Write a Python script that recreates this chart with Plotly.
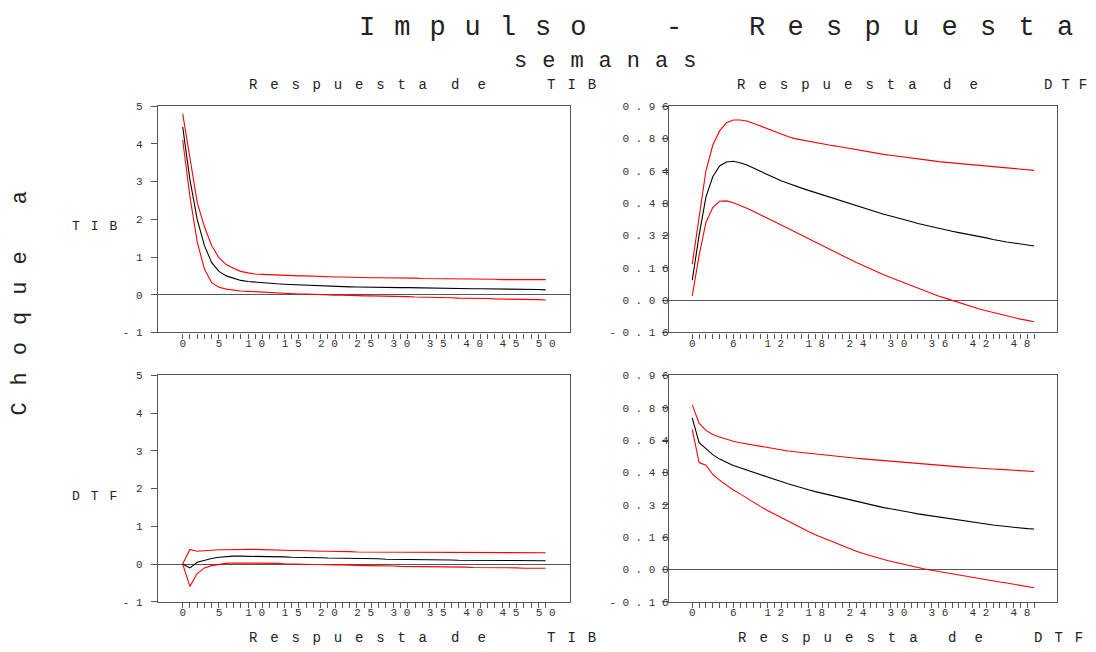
import plotly.graph_objects as go

W, H = 1096, 652
FONT = "Liberation Mono, Courier New, monospace"

steps = list(range(51))

# Respuesta de TIB a choque en TIB
tib_tib = [4.45, 3.05, 2.0, 1.3, 0.85, 0.62, 0.5, 0.43, 0.38, 0.35, 0.33, 0.32, 0.3, 0.29, 0.28, 0.27, 0.26, 0.25, 0.245, 0.24,
           0.23, 0.225, 0.22, 0.21, 0.205, 0.2, 0.2, 0.2, 0.195, 0.19, 0.19, 0.19, 0.185, 0.185, 0.18, 0.18, 0.175, 0.17, 0.17, 0.165,
           0.16, 0.16, 0.16, 0.155, 0.155, 0.15, 0.15, 0.15, 0.145, 0.14, 0.13]
tib_tib_hi = [4.8, 3.6, 2.45, 1.8, 1.3, 0.98, 0.8, 0.7, 0.62, 0.58, 0.55, 0.54, 0.53, 0.52, 0.51, 0.51, 0.5, 0.5, 0.49, 0.48,
              0.47, 0.47, 0.47, 0.46, 0.46, 0.45, 0.45, 0.45, 0.45, 0.44, 0.44, 0.44, 0.44, 0.43, 0.43, 0.42, 0.42, 0.42, 0.42, 0.42,
              0.42, 0.42, 0.41, 0.41, 0.4, 0.4, 0.4, 0.4, 0.4, 0.4, 0.4]
tib_tib_lo = [4.1, 2.6, 1.4, 0.68, 0.32, 0.2, 0.15, 0.12, 0.1, 0.09, 0.08, 0.07, 0.06, 0.05, 0.04, 0.02, 0.02, 0.02, 0.01, 0.0,
              0.0, -0.01, -0.01, -0.02, -0.02, -0.03, -0.03, -0.03, -0.04, -0.05, -0.05, -0.05, -0.06, -0.06, -0.07, -0.07, -0.08, -0.08, -0.09, -0.09,
              -0.1, -0.1, -0.1, -0.11, -0.11, -0.11, -0.12, -0.12, -0.13, -0.13, -0.14]

# Respuesta de DTF a choque en TIB
dtf_tib = [0.099, 0.32, 0.51, 0.61, 0.664, 0.683, 0.687, 0.68, 0.668, 0.652, 0.637, 0.622, 0.604, 0.59, 0.578, 0.565, 0.554, 0.543, 0.532, 0.521,
           0.51, 0.499, 0.488, 0.477, 0.466, 0.455, 0.444, 0.433, 0.425, 0.416, 0.408, 0.398, 0.389, 0.379, 0.371, 0.362, 0.354, 0.347, 0.341, 0.334,
           0.328, 0.321, 0.315, 0.308, 0.3, 0.293, 0.288, 0.283, 0.278, 0.273, 0.268]
dtf_tib_hi = [0.178, 0.42, 0.64, 0.766, 0.837, 0.878, 0.891, 0.891, 0.886, 0.874, 0.861, 0.847, 0.832, 0.82, 0.809, 0.799, 0.792, 0.785, 0.779, 0.773,
              0.767, 0.762, 0.756, 0.749, 0.743, 0.737, 0.731, 0.726, 0.721, 0.717, 0.713, 0.709, 0.704, 0.7, 0.695, 0.69, 0.685, 0.682, 0.678, 0.675,
              0.671, 0.668, 0.664, 0.661, 0.658, 0.655, 0.652, 0.65, 0.647, 0.644, 0.642]
dtf_tib_lo = [0.021, 0.22, 0.384, 0.458, 0.489, 0.491, 0.482, 0.469, 0.454, 0.438, 0.42, 0.405, 0.389, 0.372, 0.356, 0.339, 0.321, 0.303, 0.285, 0.268,
              0.252, 0.235, 0.218, 0.202, 0.186, 0.171, 0.155, 0.14, 0.126, 0.112, 0.099, 0.085, 0.071, 0.058, 0.046, 0.033, 0.021, 0.01, -0.001, -0.012,
              -0.023, -0.034, -0.044, -0.052, -0.061, -0.069, -0.077, -0.086, -0.094, -0.1, -0.107]

# Respuesta de TIB a choque en DTF
tib_dtf = [0.0, -0.1, 0.05, 0.11, 0.15, 0.18, 0.2, 0.21, 0.21, 0.21, 0.21, 0.2, 0.2, 0.19, 0.19, 0.18, 0.18, 0.18, 0.17, 0.17,
           0.16, 0.16, 0.16, 0.15, 0.15, 0.14, 0.14, 0.14, 0.13, 0.13, 0.12, 0.12, 0.12, 0.12, 0.11, 0.11, 0.11, 0.11, 0.1, 0.1,
           0.1, 0.1, 0.1, 0.1, 0.1, 0.1, 0.1, 0.1, 0.09, 0.09, 0.09]
tib_dtf_hi = [0.0, 0.39, 0.34, 0.36, 0.37, 0.38, 0.38, 0.39, 0.39, 0.39, 0.39, 0.38, 0.38, 0.37, 0.37, 0.36, 0.36, 0.35, 0.35, 0.34,
              0.34, 0.34, 0.33, 0.33, 0.32, 0.32, 0.32, 0.32, 0.32, 0.31, 0.31, 0.31, 0.31, 0.31, 0.31, 0.31, 0.31, 0.31, 0.31, 0.31,
              0.3, 0.3, 0.3, 0.3, 0.3, 0.3, 0.3, 0.3, 0.3, 0.3, 0.3]
tib_dtf_lo = [0.0, -0.59, -0.25, -0.1, -0.04, 0.0, 0.02, 0.03, 0.03, 0.03, 0.03, 0.03, 0.02, 0.02, 0.01, 0.0, 0.0, 0.0, -0.01, -0.01,
              -0.02, -0.02, -0.02, -0.03, -0.03, -0.04, -0.04, -0.04, -0.05, -0.05, -0.06, -0.06, -0.06, -0.06, -0.07, -0.07, -0.07, -0.08, -0.08, -0.08,
              -0.09, -0.09, -0.09, -0.1, -0.1, -0.1, -0.1, -0.11, -0.11, -0.11, -0.11]

# Respuesta de DTF a choque en DTF
dtf_dtf = [0.75, 0.627, 0.598, 0.568, 0.546, 0.528, 0.514, 0.503, 0.491, 0.48, 0.469, 0.457, 0.446, 0.435, 0.424, 0.413, 0.404, 0.394, 0.385, 0.377,
           0.368, 0.36, 0.352, 0.344, 0.336, 0.328, 0.319, 0.311, 0.306, 0.3, 0.295, 0.288, 0.282, 0.275, 0.27, 0.264, 0.259, 0.253, 0.248, 0.242,
           0.238, 0.233, 0.229, 0.225, 0.22, 0.216, 0.212, 0.208, 0.205, 0.202, 0.2]
dtf_dtf_hi = [0.814, 0.724, 0.688, 0.668, 0.655, 0.644, 0.634, 0.627, 0.621, 0.614, 0.608, 0.601, 0.595, 0.591, 0.586, 0.582, 0.578, 0.574, 0.57, 0.567,
              0.563, 0.56, 0.557, 0.553, 0.55, 0.547, 0.544, 0.541, 0.538, 0.535, 0.532, 0.529, 0.527, 0.524, 0.521, 0.517, 0.514, 0.512, 0.51, 0.508,
              0.505, 0.503, 0.5, 0.498, 0.497, 0.495, 0.493, 0.492, 0.49, 0.487, 0.485]
dtf_dtf_lo = [0.693, 0.529, 0.516, 0.47, 0.442, 0.418, 0.393, 0.374, 0.352, 0.333, 0.311, 0.292, 0.274, 0.256, 0.238, 0.221, 0.205, 0.188, 0.172, 0.158,
              0.145, 0.131, 0.117, 0.104, 0.09, 0.079, 0.068, 0.057, 0.049, 0.041, 0.033, 0.025, 0.016, 0.008, 0.002, -0.004, -0.01, -0.016, -0.023, -0.029,
              -0.035, -0.04, -0.046, -0.051, -0.057, -0.062, -0.067, -0.072, -0.077, -0.084, -0.09]

left_y_ticks = [-1, 0, 1, 2, 3, 4, 5]
left_y_text = ["- 1", "0", "1", "2", "3", "4", "5"]
right_y_ticks = [-0.16, 0.0, 0.16, 0.32, 0.48, 0.64, 0.80, 0.96]
right_y_text = ["- 0 . 1 6", "0 . 0 0", "0 . 1 6", "0 . 3 2", "0 . 4 8", "0 . 6 4", "0 . 8 0", "0 . 9 6"]
left_x_text = [" ".join(str(s)) if s % 5 == 0 else "" for s in steps]
right_x_text = [" ".join(str(s)) if s % 6 == 0 else "" for s in steps]

panels = [
    (1, tib_tib, tib_tib_hi, tib_tib_lo),
    (2, dtf_tib, dtf_tib_hi, dtf_tib_lo),
    (3, tib_dtf, tib_dtf_hi, tib_dtf_lo),
    (4, dtf_dtf, dtf_dtf_hi, dtf_dtf_lo),
]

fig = go.Figure()
for k, mid, hi, lo in panels:
    xa = "x" if k == 1 else f"x{k}"
    ya = "y" if k == 1 else f"y{k}"
    for series, col in ((hi, "#ff0000"), (lo, "#ff0000"), (mid, "#000000")):
        fig.add_trace(go.Scatter(x=steps, y=series, mode="lines", xaxis=xa, yaxis=ya,
                                 line=dict(color=col, width=1.1), showlegend=False, hoverinfo="skip"))


def py(target):
    # page pixel (from top) -> paper fraction, compensating the slight vertical squeeze of the render
    return 1 - ((target - 3.7) / 0.984) / H


colx = {"L": [158 / W, 570 / W], "R": [669 / W, 1057 / W]}
rowy = {"T": [py(332), py(105)], "B": [py(602), py(375)]}
tickfont = dict(family=FONT, size=11, color="#333")


def xaxis_cfg(col, row, anchor, text):
    return dict(domain=colx[col], anchor=anchor, range=[-3.4, 53.35], showgrid=False, zeroline=False,
                showline=True, mirror=True, linecolor="#555", linewidth=1.3,
                tickmode="array", tickvals=steps, ticktext=text, ticks="outside", ticklen=5,
                tickcolor="#555", tickwidth=1, tickfont=tickfont, ticklabelstandoff=-5)


def yaxis_cfg(col, row, anchor, rng, vals, text, standoff):
    return dict(domain=rowy[row], anchor=anchor, range=rng, showgrid=False, zeroline=True,
                zerolinecolor="#555", zerolinewidth=1.3, showline=True, mirror=True,
                linecolor="#555", linewidth=1.3, tickmode="array", tickvals=vals, ticktext=text,
                ticks="outside", ticklen=6, tickcolor="#555", tickwidth=1, tickfont=tickfont,
                ticklabelstandoff=standoff)


fig.update_layout(
    xaxis=xaxis_cfg("L", "T", "y", left_x_text),
    yaxis=yaxis_cfg("L", "T", "x", [-1, 5], left_y_ticks, left_y_text, 6),
    xaxis2=xaxis_cfg("R", "T", "y2", right_x_text),
    yaxis2=yaxis_cfg("R", "T", "x2", [-0.16, 0.96], right_y_ticks, right_y_text, -9),
    xaxis3=xaxis_cfg("L", "B", "y3", left_x_text),
    yaxis3=yaxis_cfg("L", "B", "x3", [-1, 5], left_y_ticks, left_y_text, 6),
    xaxis4=xaxis_cfg("R", "B", "y4", right_x_text),
    yaxis4=yaxis_cfg("R", "B", "x4", [-0.16, 0.96], right_y_ticks, right_y_text, -9),
)


def label(text, px, pyy, size, ls, anchor="left", angle=0):
    return dict(text=f'<span style="letter-spacing:{ls}px">{text}</span>', x=px / W, y=py(pyy),
                xref="paper", yref="paper", xanchor=anchor, yanchor="middle", showarrow=False,
                textangle=angle, font=dict(family=FONT, size=size, color="#222"))


annotations = [
    label("Impulso", 357, 27, 27, 19),
    label("-", 674, 27, 27, 0, anchor="center"),
    label("Respuesta", 747, 27, 27, 22.3),
    label("semanas", 512, 60, 22, 15),
    # column titles top
    label("Respuesta", 247, 84, 14, 12.8),
    label("de", 449, 84, 14, 18),
    label("TIB", 545, 84, 14, 12),
    label("Respuesta", 735, 84, 14, 13),
    label("de", 941, 84, 14, 18),
    label("DTF", 1042, 84, 14, 9),
    # column titles bottom
    label("Respuesta", 247, 638, 14, 12.8),
    label("de", 449, 638, 14, 18),
    label("TIB", 545, 638, 14, 12),
    label("Respuesta", 736, 638, 14, 13),
    label("de", 946, 638, 14, 18),
    label("DTF", 1032, 638, 14, 12),
    # row labels
    label("TIB", 70, 226, 13, 11),
    label("DTF", 70, 496, 13, 11),
    label("Choque a", 21, 294, 22, 17, anchor="center", angle=-90),
]

fig.update_layout(width=W, height=H, autosize=False, margin=dict(l=0, r=0, t=0, b=0),
                  paper_bgcolor="white", plot_bgcolor="white", annotations=annotations,
                  showlegend=False)

fig.write_html("out.html")
